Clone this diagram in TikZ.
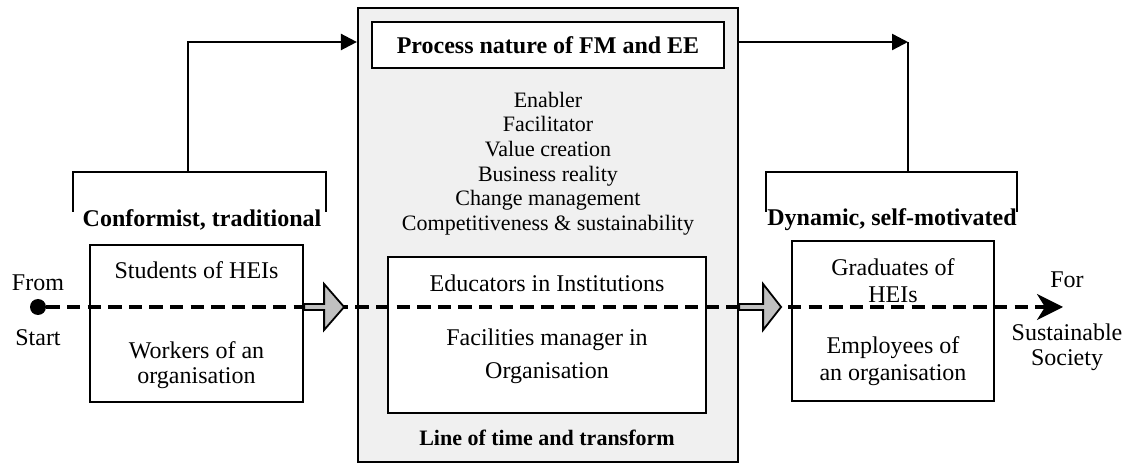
\documentclass[tikz,border=0pt]{standalone}
\usepackage{fontspec}
\setmainfont{Liberation Serif}
\usetikzlibrary{arrows.meta,calc}
\definecolor{panelgrey}{HTML}{F0F0F0}
\definecolor{arrowgrey}{HTML}{C0C0C0}
\begin{document}
\begin{tikzpicture}[x=0.5pt,y=-0.5pt,
  box/.style={draw,line width=1.1pt,rectangle,inner sep=0pt},
  txt/.style={inner sep=0pt,align=center,font=\fontsize{12}{13.5}\selectfont},
  boldtxt/.style={inner sep=0pt,align=center,font=\fontsize{12}{14}\selectfont\bfseries},
  listtxt/.style={inner sep=0pt,align=center,font=\fontsize{11}{12.3}\selectfont},
  bracket/.style={line width=1.2pt},
  flow/.style={line width=1.2pt,-{Triangle[length=8pt,width=8pt]}},
  timeline/.style={line width=1.6pt,dash pattern=on 6.7pt off 3.6pt,
    -{Stealth[length=13pt,width=13pt,inset=4pt]}},
  blockarrow/.style={draw,line width=0.9pt,fill=arrowgrey,line join=miter}
]
\useasboundingbox (0,0) rectangle (1129,464);

% central panel with the process nature of FM and EE
\node[box,fill=panelgrey,minimum width=190pt,minimum height=227pt] (core) at (548,235) {};
\node[box,fill=white,minimum width=176pt,minimum height=23pt,
      font=\fontsize{12}{14}\selectfont\bfseries] (title) at (548,45) {Process nature of FM and EE};
\node[listtxt] (roles) at (548,163.5) {Enabler\\Facilitator\\Value creation\\Business reality\\Change management\\Competitiveness \& sustainability};
\node[box,fill=white,minimum width=159pt,minimum height=78pt] (inner) at (547,335) {};
\node[txt] (educ) at (547,283) {Educators in Institutions};
\node[txt,font=\fontsize{12}{16.5}\selectfont] (fm) at (547,356.5) {Facilities manager in\\Organisation};
\node[inner sep=0pt,font=\fontsize{11}{13}\selectfont\bfseries] (linelab) at (547,438) {Line of time and transform};

% left group
\node[box,minimum width=106.5pt,minimum height=78.5pt] (lbox) at (196.5,323.5) {};
\node[txt] (students) at (196.5,270) {Students of HEIs};
\node[txt,font=\fontsize{12}{12.5}\selectfont] (workers) at (196.5,365.5) {Workers of an\\organisation};
\node[boldtxt] (conf) at (202,220) {Conformist, traditional};

% right group
\node[box,minimum width=101pt,minimum height=80pt] (rbox) at (893,321) {};
\node[txt] (grads) at (893,280.5) {Graduates of\\HEIs};
\node[txt] (empl) at (893,361.5) {Employees of\\an organisation};
\node[boldtxt] (dyn) at (892,220) {Dynamic, self-motivated};

% brackets above the groups
\coordinate (lbrtop) at (188,172);
\coordinate (rbrtop) at (908,172);
\draw[bracket] (73,212) -- (73,172) -- (326,172) -- (326,212);
\draw[bracket] (766,212) -- (766,172) -- (1017,172) -- (1017,212);

% upper flow between the groups and the panel
\draw[flow] (lbrtop) |- (core.west |- 0,42);
\draw[flow] (core.east |- 0,42) -- (rbrtop |- 0,42);
\draw[bracket] (rbrtop |- 0,42) -- (rbrtop);

% start and end of the time line
\node[circle,fill=black,inner sep=0pt,minimum size=8pt] (start) at (38,307) {};
\coordinate (finish) at (1063,307);
\node[txt] (from) at (38,283) {From};
\node[txt] (startlab) at (38,338) {Start};
\node[txt] (for) at (1067,280) {For};
\node[txt,font=\fontsize{12}{12.5}\selectfont] (society) at (1067,347.5) {Sustainable\\Society};

\draw[timeline] (start) -- (finish);

% block arrows along the time line
\path[blockarrow] (lbox.east |- start) +(0,-3) -- +(20,-3) -- +(20,-23) -- +(40,0)
  -- +(20,23) -- +(20,3) -- +(0,3) -- cycle;
\path[blockarrow] (core.east |- start) +(0,-3) -- +(24,-3) -- +(24,-23) -- +(42,0)
  -- +(24,23) -- +(24,3) -- +(0,3) -- cycle;
\end{tikzpicture}
\end{document}
